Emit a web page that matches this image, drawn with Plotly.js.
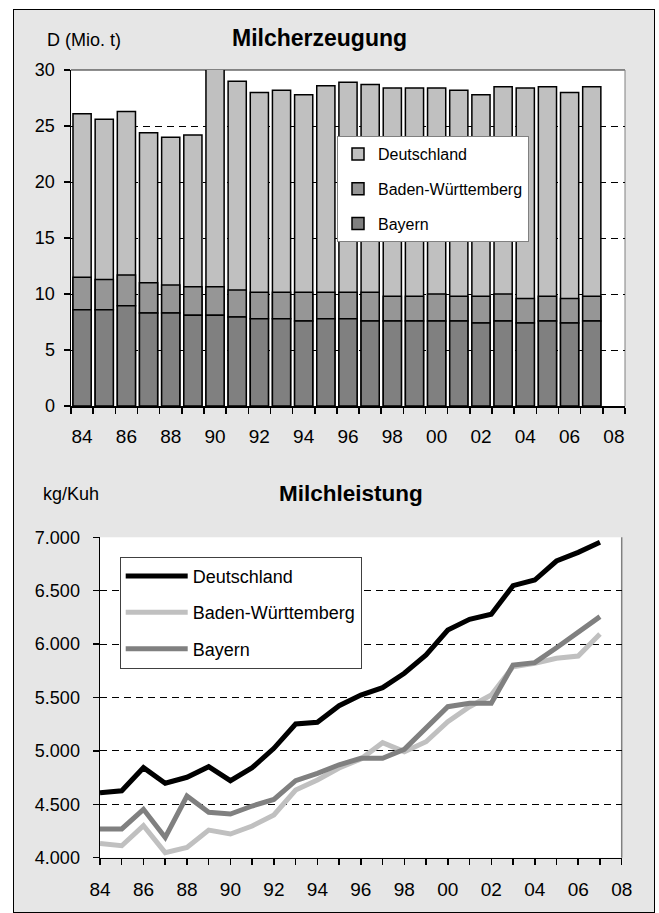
<!DOCTYPE html>
<html>
<head>
<meta charset="utf-8">
<script src="https://cdn.plot.ly/plotly-3.0.1.min.js"></script>
<style>
html,body{margin:0;padding:0;background:#ffffff;}
#frame{position:absolute;left:13px;top:9px;width:640px;height:902px;border:1px solid #000;background:#e6e6e6;}
#chart{width:640px;height:902px;}
</style>
</head>
<body>
<div id="frame"><div id="chart"></div></div>
<script>
// ---- data ----
const years = [1984,1985,1986,1987,1988,1989,1990,1991,1992,1993,1994,1995,1996,1997,1998,1999,2000,2001,2002,2003,2004,2005,2006,2007];

// Milcherzeugung (Mio. t)
const prodDeutschland = [26.1,25.6,26.3,24.4,24.0,24.2,30.4,29.0,28.0,28.2,27.8,28.6,28.9,28.7,28.4,28.4,28.4,28.2,27.8,28.5,28.4,28.5,28.0,28.5];
const prodBadenWuerttemberg = [2.9,2.7,2.75,2.7,2.5,2.55,2.55,2.4,2.35,2.35,2.55,2.35,2.35,2.55,2.2,2.2,2.4,2.2,2.4,2.4,2.2,2.2,2.2,2.2];
const prodBayern = [8.6,8.6,8.95,8.3,8.3,8.1,8.1,7.95,7.8,7.8,7.6,7.8,7.8,7.6,7.6,7.6,7.6,7.6,7.4,7.6,7.4,7.6,7.4,7.6];

// Milchleistung (kg/Kuh)
const yieldDeutschland = [4608,4627,4843,4697,4753,4852,4721,4843,5024,5252,5268,5423,5523,5592,5727,5898,6132,6232,6279,6547,6600,6778,6859,6953];
const yieldBadenWuerttemberg = [4134,4112,4300,4047,4097,4259,4222,4297,4400,4634,4728,4840,4924,5077,4993,5086,5273,5414,5523,5788,5820,5867,5888,6094];
const yieldBayern = [4269,4269,4453,4190,4578,4425,4409,4484,4546,4721,4790,4870,4931,4931,5015,5211,5414,5446,5446,5804,5826,5966,6116,6257];

// tick labels
const prodTickVals = [1984,1986,1988,1990,1992,1994,1996,1998,2000,2002,2004,2006,2008];
const prodTickText = ['84','86','88','90','92','94','96','98','00','02','04','06','08'];
const yieldTickVals = [1984,1985,1986,1987,1988,1989,1990,1991,1992,1993,1994,1995,1996,1997,1998,1999,2000,2001,2002,2003,2004,2005,2006,2007,2008];
const yieldTickText = ['84','','86','','88','','90','','92','','94','','96','','98','','00','','02','','04','','06','','08'];

const seriesNames = ['Deutschland','Baden-Württemberg','Bayern'];

// ---- layout helpers (page pixels -> paper fractions) ----
const OX = 14, OY = 10, W = 640, H = 902;
const px = x => (x - OX) / W;
const py = y => 1 - (y - OY) / H;

const FONT = 'Liberation Sans, Arial, sans-serif';

const traces = [
  {type:'bar', name:seriesNames[0], x:years, y:prodDeutschland,
   marker:{color:'#c0c0c0', line:{color:'#000', width:1.5}},
   xaxis:'x', yaxis:'y', legend:'legend', legendgroup:'p1', cliponaxis:false, hoverinfo:'skip'},
  {type:'bar', name:seriesNames[1], x:years, y:prodBadenWuerttemberg, base:prodBayern,
   marker:{color:'#969696', line:{color:'#000', width:1.5}},
   xaxis:'x', yaxis:'y', legend:'legend', legendgroup:'p2', hoverinfo:'skip'},
  {type:'bar', name:seriesNames[2], x:years, y:prodBayern,
   marker:{color:'#808080', line:{color:'#000', width:1.5}},
   xaxis:'x', yaxis:'y', legend:'legend', legendgroup:'p3', hoverinfo:'skip'},
  {type:'scatter', mode:'lines', name:seriesNames[0], x:years, y:yieldDeutschland,
   line:{color:'#000000', width:5}, xaxis:'x2', yaxis:'y2', legend:'legend2', legendgroup:'y1', hoverinfo:'skip'},
  {type:'scatter', mode:'lines', name:seriesNames[1], x:years, y:yieldBadenWuerttemberg,
   line:{color:'#c0c0c0', width:5}, xaxis:'x2', yaxis:'y2', legend:'legend2', legendgroup:'y2', hoverinfo:'skip'},
  {type:'scatter', mode:'lines', name:seriesNames[2], x:years, y:yieldBayern,
   line:{color:'#808080', width:5}, xaxis:'x2', yaxis:'y2', legend:'legend2', legendgroup:'y3', hoverinfo:'skip'}
];

const axisCommon = {
  showline:true, linecolor:'#000', linewidth:1.5, zeroline:false, fixedrange:true,
  tickcolor:'#000', tickwidth:1.5, ticklen:6
};

const layout = {
  width:W, height:H,
  margin:{l:0, r:0, t:0, b:0},
  paper_bgcolor:'#e6e6e6', plot_bgcolor:'#ffffff',
  font:{family:FONT, color:'#000', size:16},
  separators:',.',
  barmode:'overlay', bargap:0.18,
  showlegend:true,
  xaxis: Object.assign({}, axisCommon, {
    domain:[px(71), px(625)], anchor:'y', range:[1983.5, 2008.5],
    tickmode:'array', tickvals:prodTickVals, ticktext:prodTickText, ticks:'',
    tickfont:{size:19}, ticklabelstandoff:13, showgrid:false,
    minor:{ticks:'outside', tick0:1983.5, dtick:1, ticklen:6, tickwidth:1.5, tickcolor:'#000', showgrid:false}
  }),
  yaxis: Object.assign({}, axisCommon, {
    domain:[py(406), py(70)], anchor:'x', range:[0, 30], tick0:0, dtick:5, ticks:'outside',
    tickfont:{size:18}, ticklabelstandoff:5,
    showgrid:true, gridcolor:'#000', gridwidth:1, griddash:'7px,5px'
  }),
  xaxis2: Object.assign({}, axisCommon, {
    domain:[px(100), px(621.7)], anchor:'y2', range:[1984, 2008],
    tickmode:'array', tickvals:yieldTickVals, ticktext:yieldTickText, ticks:'outside',
    tickfont:{size:19}, ticklabelstandoff:8, showgrid:false
  }),
  yaxis2: Object.assign({}, axisCommon, {
    domain:[py(857.7), py(537.3)], anchor:'x2', range:[4000, 7000], tick0:4000, dtick:500,
    ticks:'outside', tickformat:',d', tickfont:{size:18}, ticklabelstandoff:9,
    showgrid:true, gridcolor:'#000', gridwidth:1, griddash:'7px,5px'
  }),
  legend:{
    x:px(337), y:py(136), xanchor:'left', yanchor:'top',
    bgcolor:'#ffffff', bordercolor:'#808080', borderwidth:1,
    font:{size:16, family:FONT}, traceorder:'grouped', tracegroupgap:11
  },
  legend2:{
    x:px(119.7), y:py(556.7), xanchor:'left', yanchor:'top',
    bgcolor:'#ffffff', bordercolor:'#404040', borderwidth:1,
    font:{size:18, family:FONT}, traceorder:'grouped', tracegroupgap:10, itemwidth:62
  },
  annotations:[
    {text:'<b>Milcherzeugung</b>', xref:'paper', yref:'paper', x:px(319.5), y:py(38.2),
     xanchor:'center', yanchor:'middle', showarrow:false, font:{size:23, family:FONT}},
    {text:'D (Mio. t)', xref:'paper', yref:'paper', x:px(45), y:py(39.5),
     xanchor:'left', yanchor:'middle', showarrow:false, font:{size:18, family:FONT}},
    {text:'<b>Milchleistung</b>', xref:'paper', yref:'paper', x:px(350.5), y:py(493.7),
     xanchor:'center', yanchor:'middle', showarrow:false, font:{size:22.5, family:FONT}},
    {text:'kg/Kuh', xref:'paper', yref:'paper', x:px(41), y:py(494),
     xanchor:'left', yanchor:'middle', showarrow:false, font:{size:18, family:FONT}}
  ],
  shapes:[
    {type:'line', xref:'x domain', yref:'y domain', x0:0, x1:1, y0:1, y1:1,
     line:{color:'#202020', width:1}, layer:'below'},
    {type:'line', xref:'x domain', yref:'y domain', x0:1, x1:1, y0:0, y1:1,
     line:{color:'#808080', width:1}, layer:'below'},
    {type:'line', xref:'x2 domain', yref:'y2 domain', x0:1, x1:1, y0:0, y1:1,
     line:{color:'#808080', width:1.5}, layer:'below'}
  ]
};

Plotly.newPlot('chart', traces, layout, {staticPlot:true, displayModeBar:false});
</script>
</body>
</html>
